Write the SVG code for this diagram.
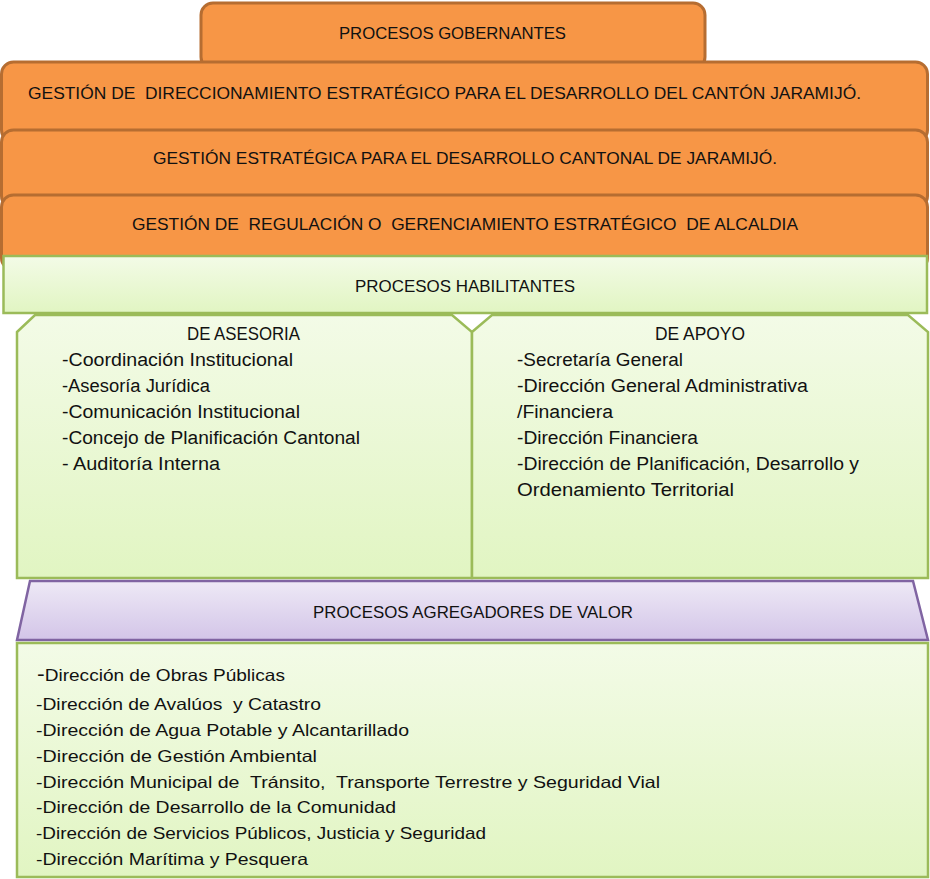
<svg xmlns="http://www.w3.org/2000/svg" width="930" height="879" viewBox="0 0 930 879">
<defs>
<linearGradient id="gGreen" x1="0" y1="0" x2="0" y2="1">
<stop offset="0" stop-color="#F3FBE7"/>
<stop offset="1" stop-color="#E1F5C2"/>
</linearGradient>
<linearGradient id="gPurple" x1="0" y1="0" x2="0" y2="1">
<stop offset="0" stop-color="#EEE9F6"/>
<stop offset="1" stop-color="#D3C5E8"/>
</linearGradient>
<style>
.org{fill:#F79646;stroke:#B66D31;stroke-width:3}
.grn{fill:url(#gGreen);stroke:#9BBB59;stroke-width:2.5}
.pur{fill:url(#gPurple);stroke:#8064A2;stroke-width:2.5}
text{font-family:"Liberation Sans",Arial,sans-serif;fill:#111;white-space:pre}
.t16{font-size:16.5px}
.t18{font-size:18px}
</style>
</defs>
<rect width="930" height="879" fill="#FFFFFF"/>
<g id="procesos-gobernantes">
<rect class="org" x="201" y="3" width="504" height="66" rx="12"/>
<text class="t16" x="339" y="39" textLength="227" lengthAdjust="spacingAndGlyphs">PROCESOS GOBERNANTES</text>
</g>
<g id="gestion-direccionamiento">
<rect class="org" x="1.5" y="62" width="926" height="80" rx="12"/>
<text class="t16" x="28" y="99" textLength="833" lengthAdjust="spacingAndGlyphs">GESTIÓN DE  DIRECCIONAMIENTO ESTRATÉGICO PARA EL DESARROLLO DEL CANTÓN JARAMIJÓ.</text>
</g>
<g id="gestion-estrategica">
<rect class="org" x="1.5" y="130" width="926" height="78" rx="12"/>
<text class="t16" x="153" y="164" textLength="624" lengthAdjust="spacingAndGlyphs">GESTIÓN ESTRATÉGICA PARA EL DESARROLLO CANTONAL DE JARAMIJÓ.</text>
</g>
<g id="gestion-regulacion">
<rect class="org" x="1.5" y="195" width="926" height="75" rx="12"/>
<text class="t16" x="132" y="230" textLength="666" lengthAdjust="spacingAndGlyphs">GESTIÓN DE  REGULACIÓN O  GERENCIAMIENTO ESTRATÉGICO  DE ALCALDIA</text>
</g>
<g id="procesos-habilitantes">
<rect class="grn" x="3.5" y="256" width="923.5" height="57"/>
<text class="t16" x="355" y="292" textLength="220" lengthAdjust="spacingAndGlyphs">PROCESOS HABILITANTES</text>
</g>
<g id="de-asesoria">
<polygon class="grn" points="17,332 35,315 452,315 472,332 472,578 17,578"/>
<text class="t18" x="187" y="340" textLength="113" lengthAdjust="spacingAndGlyphs">DE ASESORIA</text>
<text class="t18" x="62" y="366" textLength="231" lengthAdjust="spacingAndGlyphs">-Coordinación Institucional</text>
<text class="t18" x="62" y="392" textLength="148" lengthAdjust="spacingAndGlyphs">-Asesoría Jurídica</text>
<text class="t18" x="62" y="418" textLength="238" lengthAdjust="spacingAndGlyphs">-Comunicación Institucional</text>
<text class="t18" x="62" y="444" textLength="298" lengthAdjust="spacingAndGlyphs">-Concejo de Planificación Cantonal</text>
<text class="t18" x="62" y="470" textLength="158" lengthAdjust="spacingAndGlyphs">- Auditoría Interna</text>
</g>
<g id="de-apoyo">
<polygon class="grn" points="472,332 492,315 908,315 928,332 928,578 472,578"/>
<text class="t18" x="655" y="340" textLength="90" lengthAdjust="spacingAndGlyphs">DE APOYO</text>
<text class="t18" x="517" y="366" textLength="166" lengthAdjust="spacingAndGlyphs">-Secretaría General</text>
<text class="t18" x="517" y="392" textLength="291" lengthAdjust="spacingAndGlyphs">-Dirección General Administrativa</text>
<text class="t18" x="517" y="418" textLength="96" lengthAdjust="spacingAndGlyphs">/Financiera</text>
<text class="t18" x="517" y="444" textLength="181" lengthAdjust="spacingAndGlyphs">-Dirección Financiera</text>
<text class="t18" x="517" y="470" textLength="342" lengthAdjust="spacingAndGlyphs">-Dirección de Planificación, Desarrollo y</text>
<text class="t18" x="517" y="496" textLength="217" lengthAdjust="spacingAndGlyphs">Ordenamiento Territorial</text>
</g>
<g id="procesos-agregadores">
<polygon class="pur" points="30,581 913,581 928,640 17,640"/>
<text class="t16" x="313" y="618" textLength="320" lengthAdjust="spacingAndGlyphs">PROCESOS AGREGADORES DE VALOR</text>
</g>
<g id="direcciones">
<rect class="grn" x="17" y="643" width="911" height="234"/>
<text class="t16" x="37" y="681" textLength="248" lengthAdjust="spacingAndGlyphs"><tspan font-size="20">-</tspan>Dirección de Obras Públicas</text>
<text class="t16" x="36" y="710" textLength="285" lengthAdjust="spacingAndGlyphs">-Dirección de Avalúos  y Catastro</text>
<text class="t16" x="36" y="736" textLength="373" lengthAdjust="spacingAndGlyphs">-Dirección de Agua Potable y Alcantarillado</text>
<text class="t16" x="36" y="762" textLength="281" lengthAdjust="spacingAndGlyphs">-Dirección de Gestión Ambiental</text>
<text class="t16" x="36" y="788" textLength="624" lengthAdjust="spacingAndGlyphs">-Dirección Municipal de  Tránsito,  Transporte Terrestre y Seguridad Vial</text>
<text class="t16" x="36" y="813" textLength="360" lengthAdjust="spacingAndGlyphs">-Dirección de Desarrollo de la Comunidad</text>
<text class="t16" x="36" y="839" textLength="450" lengthAdjust="spacingAndGlyphs">-Dirección de Servicios Públicos, Justicia y Seguridad</text>
<text class="t16" x="36" y="865" textLength="272" lengthAdjust="spacingAndGlyphs">-Dirección Marítima y Pesquera</text>
</g>
<g id="connectors"></g>
</svg>
